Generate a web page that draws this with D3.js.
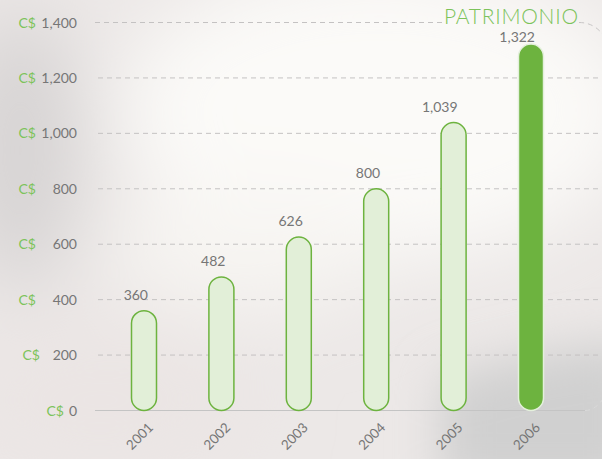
<!DOCTYPE html>
<html><head><meta charset="utf-8">
<script src="https://cdn.jsdelivr.net/npm/d3@7/dist/d3.min.js"></script>
<style>html,body{margin:0;padding:0;overflow:hidden}svg{display:block}</style>
</head><body>
<script>
const years = ["2001","2002","2003","2004","2005","2006"];
const values = [360, 482, 626, 800, 1039, 1322];
const yTicks = [0, 200, 400, 600, 800, 1000, 1200, 1400];
const title = "PATRIMONIO";
const currency = "C$";

const W = 602, H = 459;
const green = "#6db33f", lightGreen = "#e2efd8", labelGreen = "#7cc35a", gray = "#767676";
const svg = d3.select("body").append("svg").attr("width", W).attr("height", H)
  .style("font-family", "Lato, 'Open Sans', sans-serif");

// background
const defs = svg.append("defs");
const blur = defs.append("filter").attr("id","blur").attr("x","-50%").attr("y","-50%").attr("width","200%").attr("height","200%");
blur.append("feGaussianBlur").attr("stdDeviation", 40);
const blur2 = defs.append("filter").attr("id","blur2").attr("x","-50%").attr("y","-50%").attr("width","200%").attr("height","200%");
blur2.append("feGaussianBlur").attr("stdDeviation", 24);
svg.append("rect").attr("width", W).attr("height", H).attr("fill", "#ece8e7");
const bg = svg.append("g").attr("filter","url(#blur)");
bg.append("ellipse").attr("cx", 380).attr("cy", 110).attr("rx", 260).attr("ry", 150).attr("fill", "#fbfaf8");
bg.append("ellipse").attr("cx", 250).attr("cy", 250).attr("rx", 140).attr("ry", 60).attr("fill", "#f7f5f2");
bg.append("ellipse").attr("cx", 20).attr("cy", 150).attr("rx", 60).attr("ry", 140).attr("fill", "#d6d3d3");
bg.append("ellipse").attr("cx", 100).attr("cy", 400).attr("rx", 150).attr("ry", 80).attr("fill", "#ebe5e4");
svg.append("g").attr("filter","url(#blur2)")
  .append("path").attr("d", "M440,380 Q520,350 640,340 L640,490 L440,490 Z").attr("fill", "#d0d0d0");

const y = d3.scaleLinear().domain([0, 1400]).range([410.5, 22.5]);
const x = d3.scalePoint().domain(years).range([144, 531]);
const barW = 25;

// grid lines
const grid = svg.append("g");
grid.selectAll("line").data(yTicks.filter(d => d > 0)).join("line")
  .attr("x1", d => d === 1400 ? 95 : 98)
  .attr("x2", d => d === 1400 ? 442 : W)
  .attr("y1", d => y(d)).attr("y2", d => y(d))
  .attr("stroke", "#c4c2c2").attr("stroke-width", 1).attr("stroke-dasharray", "5,4");
// baseline
svg.append("line").attr("x1", 95).attr("x2", 585).attr("y1", y(0)).attr("y2", y(0))
  .attr("stroke", "#c4c4c4").attr("stroke-width", 1.2);
// rounded frame corners (dashed)
svg.append("path").attr("d", `M579,${y(1400)} Q600,${y(1400)} 610,${y(1400)+25}`)
  .attr("fill","none").attr("stroke","#c8c6c6").attr("stroke-dasharray","5,4");
svg.append("path").attr("d", `M585,${y(0)} Q598,${y(0)} 608,${y(0)-20}`)
  .attr("fill","none").attr("stroke","#dadada").attr("stroke-dasharray","5,4");

// y labels
const yl = svg.append("g").style("font-size", "14px");
yl.selectAll("text.num").data(yTicks).join("text").attr("class","num")
  .attr("x", 77).attr("y", d => y(d) + 5).attr("text-anchor", "end").attr("fill", gray)
  .text(d => d3.format(",")(d));
yl.selectAll("text.cur").data(yTicks).join("text").attr("class","cur")
  .attr("x", d => d === 0 ? 64 : (d === 200 ? 40 : 36)).attr("y", d => y(d) + 5)
  .attr("text-anchor", "end").attr("fill", labelGreen).text(currency);

// bars
const data = years.map((yr, i) => ({yr, v: values[i], last: i === years.length - 1}));
svg.append("g").selectAll("rect").data(data).join("rect")
  .attr("x", d => x(d.yr) - barW / 2).attr("width", barW)
  .attr("y", d => y(d.v)).attr("height", d => y(0) - y(d.v))
  .attr("rx", barW / 2).attr("ry", barW / 2)
  .attr("fill", d => d.last ? green : lightGreen)
  .attr("stroke", d => d.last ? "#e4f0dc" : green).attr("stroke-width", 1.5);

// value labels
svg.append("g").selectAll("text").data(data).join("text")
  .attr("x", d => x(d.yr) + 4).attr("y", d => y(d.v) - (d.last ? 2 : 11))
  .attr("text-anchor", "end").attr("fill", gray).style("font-size", "14px")
  .text(d => d3.format(",")(d.v));

// x labels
svg.append("g").selectAll("text").data(years).join("text")
  .attr("transform", d => `translate(${x(d) + 10},${y(0) + 18}) rotate(-45)`)
  .attr("text-anchor", "end").attr("fill", gray).style("font-size", "13.5px")
  .text(d => d);

// title
svg.append("text").attr("x", 444).attr("y", 23.5).attr("fill", labelGreen)
  .style("font-size", "21px").style("font-weight", 300)
  .attr("textLength", 134).attr("lengthAdjust", "spacing")
  .text(title);
</script>
</body></html>
